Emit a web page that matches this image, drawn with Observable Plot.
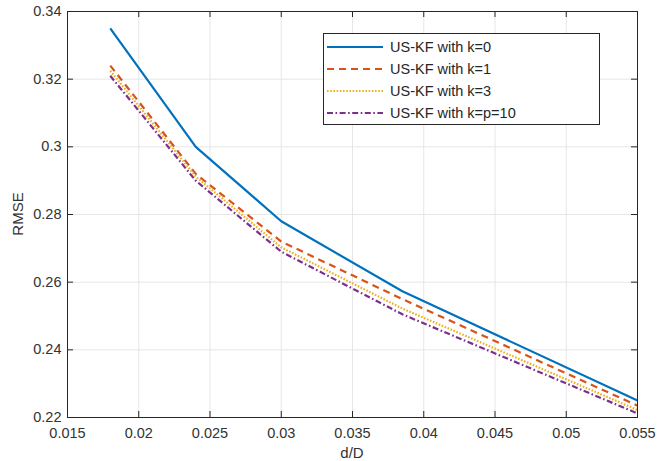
<!DOCTYPE html>
<html>
<head>
<meta charset="utf-8">
<script src="https://cdn.jsdelivr.net/npm/d3@7"></script>
<script src="https://cdn.jsdelivr.net/npm/@observablehq/plot@0.6"></script>
<style>
  body { margin: 0; background: #fff; }
  #wrap { position: relative; width: 657px; height: 461px; font-family: "Liberation Sans", Arial, sans-serif; }
  #legend { position: absolute; left: 323px; top: 33px; width: 277px; height: 92px; border: 1px solid #262626; background: #fff; box-sizing: border-box; }
  .row { position: absolute; left: 0; height: 20px; display: flex; align-items: center; }
  .row svg { margin-left: 2px; }
  .row span { font-size: 14.5px; color: #262626; margin-left: 6px; }
</style>
</head>
<body>
<div id="wrap"></div>
<script>
// Data
const xVals = [0.018, 0.024, 0.030, 0.0385, 0.055];
const rmseK0 = [0.335, 0.300, 0.278, 0.2573, 0.225];
const rmseK1 = [0.324, 0.292, 0.272, 0.2550, 0.2235];
const rmseK3 = [0.3225, 0.2912, 0.2703, 0.2522, 0.2222];
const rmseK10 = [0.321, 0.290, 0.269, 0.2505, 0.2212];
const seriesNames = ["US-KF with k=0", "US-KF with k=1", "US-KF with k=3", "US-KF with k=p=10"];
const seriesColors = ["#0072BD", "#D95319", "#EDB120", "#7E2F8E"];
const seriesDash = [null, "7,5", "1.6,1.6", "6,2.5,1.6,2.5"];
const xTicks = [0.015, 0.02, 0.025, 0.03, 0.035, 0.04, 0.045, 0.05, 0.055];
const yTicks = [0.22, 0.24, 0.26, 0.28, 0.3, 0.32, 0.34];

const allSeries = [rmseK0, rmseK1, rmseK3, rmseK10];
const rows = [];
allSeries.forEach((vals, s) => vals.forEach((v, i) => rows.push({series: seriesNames[s], s, x: xVals[i], y: v})));

const W = 657, H = 461, mL = 67, mR = 20, mT = 11, mB = 44;
const innerH = H - mT - mB, innerW = W - mL - mR;
const axisColor = "#262626";
const fmt = d => String(+d.toFixed(4));

const marks = [
  Plot.gridX(xTicks, {stroke: "#e6e6e6", strokeOpacity: 1}),
  Plot.gridY(yTicks, {stroke: "#e6e6e6", strokeOpacity: 1}),
  ...allSeries.map((vals, s) => Plot.line(rows.filter(r => r.s === s), {
    x: "x", y: "y", stroke: seriesColors[s], strokeWidth: 2.2,
    strokeDasharray: seriesDash[s], strokeLinecap: "butt", strokeLinejoin: "round"
  })),
  Plot.tickX(xTicks, {x: d => d, stroke: axisColor, insetTop: innerH - 6}),
  Plot.tickX(xTicks, {x: d => d, stroke: axisColor, insetBottom: innerH - 6}),
  Plot.tickY(yTicks, {y: d => d, stroke: axisColor, insetRight: innerW - 6}),
  Plot.tickY(yTicks, {y: d => d, stroke: axisColor, insetLeft: innerW - 6}),
  Plot.frame({stroke: axisColor}),
  Plot.axisX(xTicks, {tickSize: 0, tickPadding: 10, tickFormat: fmt, fontSize: 14.5, fill: "#333", label: null}),
  Plot.axisY(yTicks, {tickSize: 0, tickPadding: 6, tickFormat: fmt, fontSize: 14.5, fill: "#333", label: null})
];

const chart = Plot.plot({
  width: W, height: H,
  marginLeft: mL, marginRight: mR, marginTop: mT, marginBottom: mB,
  style: {fontFamily: "'Liberation Sans', Arial, sans-serif", fontSize: "14px", color: axisColor, background: "#fff"},
  x: {domain: [0.015, 0.055]},
  y: {domain: [0.22, 0.34]},
  marks
});

const wrap = document.getElementById("wrap");
wrap.appendChild(chart);

// axis labels
const ns = "http://www.w3.org/2000/svg";
const xl = document.createElementNS(ns, "text");
xl.setAttribute("x", mL + innerW / 2);
xl.setAttribute("y", 458);
xl.setAttribute("text-anchor", "middle");
xl.setAttribute("font-size", "15");
xl.setAttribute("fill", "#333");
xl.textContent = "d/D";
chart.appendChild(xl);
const yl = document.createElementNS(ns, "text");
yl.setAttribute("transform", `translate(23,${mT + innerH / 2}) rotate(-90)`);
yl.setAttribute("text-anchor", "middle");
yl.setAttribute("font-size", "15");
yl.setAttribute("fill", "#333");
yl.textContent = "RMSE";
chart.appendChild(yl);

// legend
const leg = document.createElement("div");
leg.id = "legend";
const rowTops = [3, 25, 47, 69];
seriesNames.forEach((name, i) => {
  const r = document.createElement("div");
  r.className = "row";
  r.style.top = rowTops[i] + "px";
  const dash = seriesDash[i] ? `stroke-dasharray="${seriesDash[i]}"` : "";
  r.innerHTML = `<svg width="58" height="20"><line x1="1" y1="10" x2="57" y2="10" stroke="${seriesColors[i]}" stroke-width="2.2" ${dash}/></svg><span>${name}</span>`;
  leg.appendChild(r);
});
wrap.appendChild(leg);
</script>
</body>
</html>
